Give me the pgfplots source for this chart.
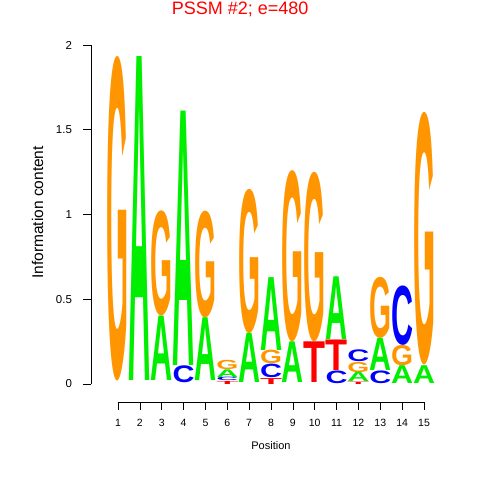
\documentclass[border=0pt]{standalone}
\usepackage{fontspec}
\setmainfont{Liberation Sans}
\usepackage{graphicx}
\usepackage{pgfplots}
\usepackage{pgfplotstable}
\pgfplotsset{compat=1.18}
\definecolor{cA}{HTML}{00EE00}
\definecolor{cC}{HTML}{0000FF}
\definecolor{cG}{HTML}{FF9500}
\definecolor{cT}{HTML}{FF0000}

\pgfplotstableread{
x y h
2 0.02 1.91
3 0.02 0.38
4 0.11 1.50
5 0.02 0.37
6 0.04 0.045
7 0.01 0.29
8 0.20 0.43
9 0.01 0.24
11 0.26 0.37
12 0.014 0.055
13 0.08 0.19
14 0.005 0.105
15 0.005 0.105
}\tabA

\pgfplotstableread{
x y h
4 0.01 0.10
6 0.02 0.02
8 0.04 0.08
11 0.005 0.075
12 0.13 0.07
13 0.005 0.075
14 0.23 0.35
}\tabC

\pgfplotstableread{
x y h
1 0.02 1.91
3 0.40 0.62
5 0.39 0.63
6 0.085 0.055
7 0.30 0.85
8 0.12 0.08
9 0.25 1.01
10 0.25 1.00
12 0.07 0.06
13 0.27 0.36
14 0.11 0.12
15 0.11 1.49
}\tabG

\pgfplotstableread{
x y h
6 0.0 0.018
8 0.0 0.035
10 0.01 0.24
11 0.08 0.18
12 0.0 0.014
}\tabT

\pgfplotsset{
  logoletter/.style n args={2}{
    draw=none, no markers,
    visualization depends on={\thisrow{h} \as \hval},
    nodes near coords={\pgfmathsetlengthmacro\lh{\hval*169.5bp}\resizebox*{22bp}{\lh}{\bfseries #1}},
    every node near coord/.append style={anchor=south, inner sep=0pt, outer sep=0pt, text=#2},
  }
}

\begin{document}
\begin{tikzpicture}
\path[use as bounding box] (-91bp,-78bp) rectangle (389bp,402bp);
\begin{axis}[
  at={(0,0)}, anchor=south west,
  scale only axis, width=354.9bp, height=357bp,
  xmin=-0.235, xmax=16, ymin=-0.106, ymax=2,
  clip=false,
  axis line style={draw=none},
  tick pos=left, tick align=outside,
  major tick length=7.5bp,
  tick style={black, line width=0.6bp},
  xtick={1,...,15},
  ytick={0,0.5,1,1.5,2},
  yticklabels={0,0.5,1,1.5,2},
  /pgf/number format/assume math mode=true,
  xticklabel style={font=\fontsize{10.5bp}{12bp}\selectfont, yshift=-6bp},
  yticklabel style={font=\fontsize{11.5bp}{13bp}\selectfont, xshift=-8bp},
  xlabel={Position},
  xlabel style={at={(axis description cs:0.507,-0.1317)}, anchor=base, font=\fontsize{11bp}{13bp}\selectfont},
  ylabel={Information content},
  ylabel style={at={(axis description cs:-0.1507,0.531)}, anchor=center, font=\fontsize{15.5bp}{18bp}\selectfont},
  title={PSSM \#2; e=480},
  title style={at={(axis description cs:0.42,1.0854)}, anchor=base, yshift=-6pt, text=red, font=\fontsize{18bp}{21bp}\selectfont},
]
\addplot[logoletter={G}{cG}] table[x=x,y=y] {\tabG};
\addplot[logoletter={A}{cA}] table[x=x,y=y] {\tabA};
\addplot[logoletter={C}{cC}] table[x=x,y=y] {\tabC};
\addplot[logoletter={T}{cT}] table[x=x,y=y] {\tabT};
\draw[line width=0.6bp] (axis cs:1,-0.106) -- (axis cs:15,-0.106);
\draw[line width=0.6bp] (axis cs:-0.235,0) -- (axis cs:-0.235,2);
\end{axis}
\end{tikzpicture}
\end{document}
